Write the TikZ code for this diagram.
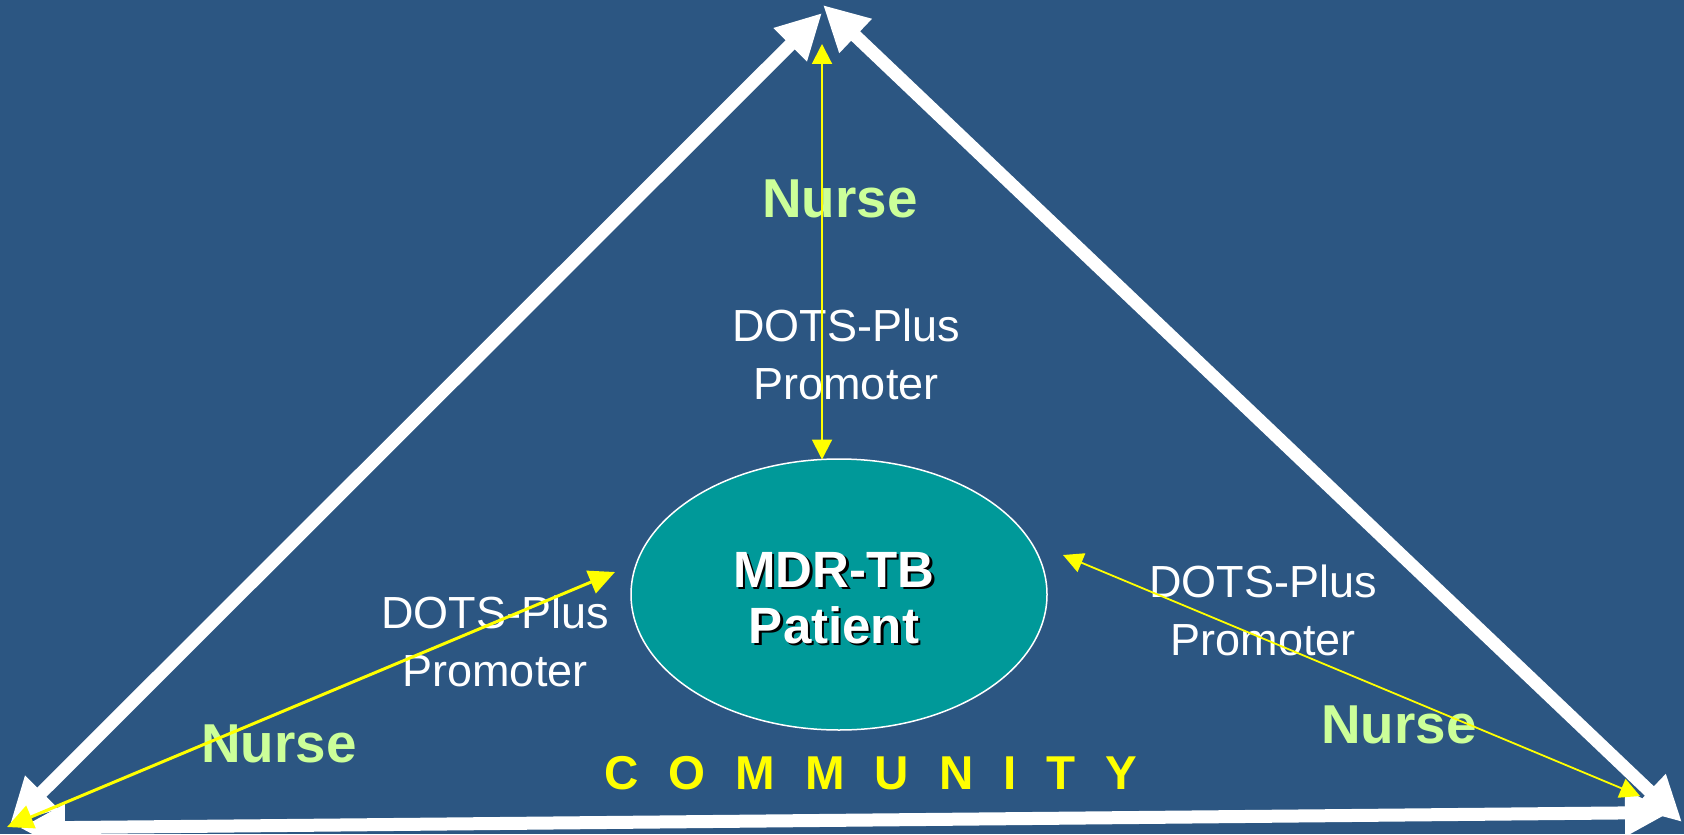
\documentclass[tikz,border=0pt]{standalone}
\usepackage{fontspec}
\setmainfont{Liberation Sans}
\usetikzlibrary{arrows.meta,shapes.geometric}
\definecolor{bgblue}{HTML}{2C5682}
\definecolor{patientteal}{HTML}{009999}
\definecolor{nursegreen}{HTML}{CCFF99}
\definecolor{arrowyellow}{HTML}{FFFF00}
\newcommand\shadowtxt[1]{\makebox[0pt][l]{\hspace{1.2pt}\raisebox{-1.2pt}{\color{black}#1}}#1}
\newcommand\mylines[2]{\begin{tabular}[t]{@{}c@{}}#1\\#2\end{tabular}}
\newcommand\commgap{\hspace{15pt}}
\begin{document}
\begin{tikzpicture}[x=0.5pt,y=-0.5pt,
  whitearrow/.style={draw=white, line width=6.5pt,
    {Triangle[length=22.5pt,width=22pt]}-{Triangle[length=22.5pt,width=22pt]}},
  yarrowbig/.style={draw=arrowyellow, line width=1.5pt,
    {Triangle[length=13pt,width=12pt]}-{Triangle[length=13pt,width=12pt]}},
  yarrowsmall/.style={draw=arrowyellow, line width=0.9pt,
    {Triangle[length=10pt,width=10pt]}-{Triangle[length=10pt,width=10pt]}},
  promo/.style={text=white, inner sep=0pt, anchor=base,
    font=\fontsize{22.5}{29}\selectfont},
  nurse/.style={text=nursegreen, inner sep=0pt, anchor=base,
    font=\fontsize{27.4}{31}\selectfont\bfseries},
  patientbox/.style={ellipse, draw=white, line width=0.75pt, fill=patientteal,
    minimum width=208pt, minimum height=135.5pt, inner sep=0pt},
  community/.style={text=arrowyellow, inner sep=0pt, anchor=base,
    font=\fontsize{23.75}{28}\selectfont\bfseries}
]
\fill[bgblue] (0,0) rectangle (1684,834);
\useasboundingbox (0,0) rectangle (1684,834);

% corners of the triangle
\coordinate (apexL) at (822,13);
\coordinate (apexR) at (823,5);
\coordinate (botL) at (10,824);
\coordinate (botR) at (1682,822);
\coordinate (baseL) at (20,828);
\coordinate (baseR) at (1670,812.5);

\draw[whitearrow] (botL) -- (apexL);
\draw[whitearrow] (apexR) -- (botR);
\draw[whitearrow] (baseL) -- (baseR);

% patient
\node[patientbox] (patient) at (839,594.5) {};
\node[text=white, inner sep=0pt, anchor=base,
      font=\fontsize{25.5}{28}\selectfont\bfseries] (ptext) at (834,587)
      {\mylines{\shadowtxt{MDR-TB}}{\shadowtxt{Patient}}};

% labels
\node[nurse] (nurseTop) at (840,218) {Nurse};
\node[promo] (promoTop) at (846,341) {\mylines{DOTS-Plus}{Promoter}};
\node[promo] (promoLeft) at (495,628) {\mylines{DOTS-Plus}{Promoter}};
\node[nurse] (nurseLeft) at (279,762) {Nurse};
\node[promo] (promoRight) at (1263,597) {\mylines{DOTS-Plus}{Promoter}};
\node[nurse] (nurseRight) at (1399,743) {Nurse};
\node[community] (comm) at (871,789)
  {C\commgap O\commgap M\commgap M\commgap U\commgap N\commgap I\commgap T\commgap Y};

% yellow connectors
\coordinate (vTop) at (822,44);
\coordinate (vBot) at (822,459.5);
\coordinate (lA) at (7,827);
\coordinate (lB) at (615,572);
\coordinate (rA) at (1063,555);
\coordinate (rB) at (1640,796);
\draw[yarrowsmall, line width=1pt] (vTop) -- (vBot);
\draw[yarrowbig] (lA) -- (lB);
\draw[yarrowsmall] (rA) -- (rB);
\end{tikzpicture}
\end{document}
